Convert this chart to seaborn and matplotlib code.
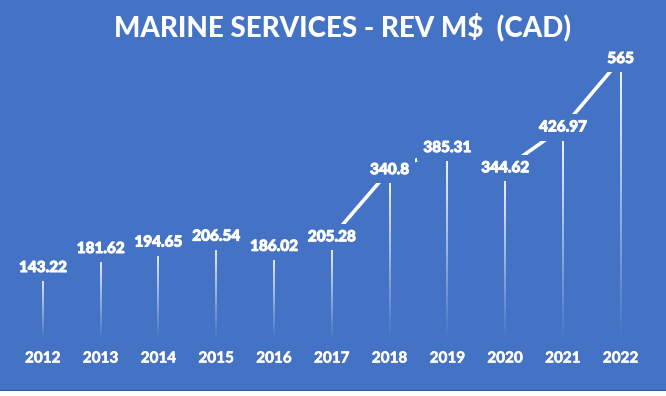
import numpy as np
import pandas as pd
import matplotlib
matplotlib.use("Agg")
import matplotlib.pyplot as plt
import matplotlib.patheffects as pe
import seaborn as sns
from matplotlib.collections import LineCollection
from matplotlib.patches import Rectangle

# chart data
years = ["2012", "2013", "2014", "2015", "2016", "2017",
         "2018", "2019", "2020", "2021", "2022"]
revenue = [143.22, 181.62, 194.65, 206.54, 186.02, 205.28,
           340.8, 385.31, 344.62, 426.97, 565]
value_labels = ["143.22", "181.62", "194.65", "206.54", "186.02", "205.28",
                "340.8", "385.31", "344.62", "426.97", "565"]
title = "MARINE SERVICES - REV M$  (CAD)"

BLUE = "#4472C4"

sns.set_style("dark")
plt.rcParams["font.family"] = ["Lato", "DejaVu Sans"]

df = pd.DataFrame({"pos": np.arange(len(years)), "rev": revenue})

fig = plt.figure(figsize=(6.66, 3.96), dpi=100)
fig.patch.set_facecolor(BLUE)
ax = fig.add_axes([0.021, 0.1439, 0.9545, 0.7508])
ax.set_facecolor(BLUE)

# drop lines fading from white at the top to transparent at the bottom
segs, cols = [], []
n = 60
for p, v in zip(df["pos"], df["rev"]):
    ys = np.linspace(0, v, n + 1)
    for k in range(n):
        segs.append([(p, ys[k]), (p, ys[k + 1])])
        cols.append((1, 1, 1, (k + 0.5) / n))
ax.add_collection(LineCollection(segs, colors=cols, linewidths=1.4, zorder=1))

# connecting line
sns.lineplot(data=df, x="pos", y="rev", color="white", linewidth=2.6,
             ax=ax, zorder=2, legend=False)

# a thin white stroke makes the small text as heavy as the original
heavy = [pe.withStroke(linewidth=0.7, foreground="white")]

# value labels with opaque boxes
for p, v, s in zip(df["pos"], df["rev"], value_labels):
    ax.text(p, v, s, ha="center", va="center", color="white",
            fontsize=11, fontweight="black", zorder=3, path_effects=heavy,
            bbox=dict(boxstyle="square,pad=0.4", fc=BLUE, ec="none"))

ax.set_xlim(-0.5, len(years) - 0.5)
ax.set_ylim(0, 600)
ax.set_xticks(df["pos"])
ax.set_xticklabels(years, color="white", fontsize=11, fontweight="bold")
for t in ax.get_xticklabels():
    t.set_path_effects([pe.withStroke(linewidth=0.4, foreground="white")])
ax.set_yticks([])
ax.tick_params(axis="x", length=0, pad=9)
ax.grid(False)
for sp in ax.spines.values():
    sp.set_visible(False)
ax.set_xlabel("")
ax.set_ylabel("")

fig.text(0.515, 0.932, title, ha="center", va="center", color="white",
         fontsize=20, fontweight="black")

# white strip along the bottom edge
fig.patches.append(Rectangle((0, 0), 1, 5 / 396, transform=fig.transFigure,
                             fc="white", ec="none", zorder=5))
fig.patches.append(Rectangle((0, 5 / 396), 1, 1 / 396, transform=fig.transFigure,
                             fc="#2F5597", ec="none", zorder=5))

fig.savefig("out.png", dpi=100, facecolor=fig.get_facecolor())
